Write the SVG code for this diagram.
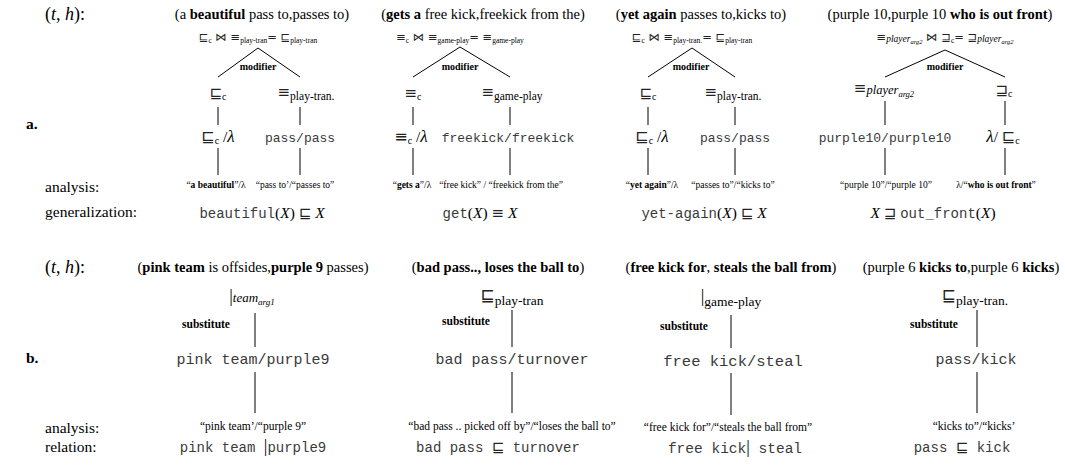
<svg xmlns="http://www.w3.org/2000/svg" width="1065" height="466" viewBox="0 0 1065 466">
<style>
text{font-family:"Liberation Serif","DejaVu Serif",serif;fill:#000}
.c{text-anchor:middle}
.title{font-size:14.5px}
.lbl{font-size:15.5px}
.th{font-size:18px}
.hd{font-size:15.5px;font-weight:bold}
.top{font-size:11.5px}
.sy{font-family:"DejaVu Sans",sans-serif;fill:#222}
.mono{font-family:"Liberation Mono","DejaVu Sans Mono",monospace;fill:#3a3a3a}
.i{font-style:italic}
.b{font-weight:bold}
.mod{font-size:10px;font-weight:bold}
.sub{font-size:11.5px;font-weight:bold}
.an{font-size:9.5px}
.anb{font-size:11.5px}
.n1{font-size:15px}
.edge{stroke:#000;stroke-width:1;fill:none}
</style>
<rect width="1065" height="466" fill="#fff"/>

<g id="labels">
<text x="45" y="20" class="th">(<tspan class="i">t</tspan>,  <tspan class="i">h</tspan>):</text>
<text x="26" y="129" class="hd">a.</text>
<text x="45" y="192" class="lbl">analysis:</text>
<text x="45" y="217" class="lbl">generalization:</text>
<text x="45" y="273" class="th">(<tspan class="i">t</tspan>,  <tspan class="i">h</tspan>):</text>
<text x="26" y="363" class="hd">b.</text>
<text x="45" y="433" class="lbl">analysis:</text>
<text x="45" y="452" class="lbl">relation:</text>
</g>

<g id="connectors">
<polyline class="edge" points="218,77 258,48 300,77"/>
<polyline class="edge" points="413,77 460,47 510,77"/>
<polyline class="edge" points="648,77 692,48 735,77"/>
<polyline class="edge" points="885,77 945,50 1005,77"/>
<text x="258" y="70" class="mod c">modifier</text>
<text x="460" y="70" class="mod c">modifier</text>
<text x="691" y="70" class="mod c">modifier</text>
<text x="945" y="70" class="mod c">modifier</text>
<path class="edge" d="M218,107V125M300,107V125M413,107V125M510,107V125M648,107V125M735,107V125M885,101V125M1005,101V125"/>
<path class="edge" d="M218,148V175M300,148V175M413,148V175M510,148V175M648,148V175M735,148V175M885,148V175M1005,148V175"/>
<path class="edge" d="M255,313V347M255,372V413M512,310V347M512,372V413M731,315V348M731,373V415M977,310V347M977,372V413"/>
<text x="206" y="328" class="sub c">substitute</text>
<text x="466" y="325" class="sub c">substitute</text>
<text x="684" y="330" class="sub c">substitute</text>
<text x="934" y="328" class="sub c">substitute</text>
</g>

<!-- Column a1 -->
<g id="a1-title"><text x="262" y="19" class="title c">(a <tspan class="b">beautiful</tspan> pass to,passes to)</text></g>
<g id="a1-root"><text x="258" y="41" class="top c"><tspan class="sy">⊑</tspan><tspan font-size="7.5" dy="2">c</tspan><tspan dy="-2" class="sy"> ⋈ ≡</tspan><tspan font-size="7.5" dy="2">play-tran</tspan><tspan dy="-2" class="sy">= ⊑</tspan><tspan font-size="7.5" dy="2">play-tran</tspan></text></g>
<g id="a1-l1"><text x="218" y="98" class="n1 c"><tspan class="sy">⊑</tspan><tspan font-size="10" dy="2">c</tspan></text></g>
<g id="a1-r1"><text x="306" y="97" class="n1 c"><tspan class="sy">≡</tspan><tspan font-size="11.5" dy="3">play-tran.</tspan></text></g>
<g id="a1-l2"><text x="218" y="142" class="lbl c"><tspan class="sy" font-size="16">⊑</tspan><tspan font-size="10" dy="2">c</tspan><tspan dy="-2"> /</tspan><tspan class="i" font-size="17">λ</tspan></text></g>
<g id="a1-r2"><text x="300" y="142" class="mono c" font-size="13">pass/pass</text></g>
<g id="a1-la"><text x="216" y="188" class="an c">“<tspan class="b">a beautiful</tspan>”/λ</text></g>
<g id="a1-ra"><text x="295" y="188" class="an c">“pass to’/“passes to”</text></g>
<g id="a1-gen"><text x="262" y="218" class="lbl c" font-size="17"><tspan class="mono" font-size="14">beautiful</tspan>(<tspan class="i">X</tspan>) <tspan class="sy" font-size="15">⊑</tspan> <tspan class="i">X</tspan></text></g>

<!-- Column a2 -->
<g id="a2-title"><text x="483" y="19" class="title c">(<tspan class="b">gets a</tspan> free kick,freekick from the)</text></g>
<g id="a2-root"><text x="460" y="41" class="top c"><tspan class="sy">≡</tspan><tspan font-size="7.5" dy="2">c</tspan><tspan dy="-2" class="sy"> ⋈ ≡</tspan><tspan font-size="7.5" dy="2">game-play</tspan><tspan dy="-2" class="sy">= ≡</tspan><tspan font-size="7.5" dy="2">game-play</tspan></text></g>
<g id="a2-l1"><text x="413" y="98" class="n1 c"><tspan class="sy">≡</tspan><tspan font-size="10" dy="2">c</tspan></text></g>
<g id="a2-r1"><text x="512" y="97" class="n1 c"><tspan class="sy">≡</tspan><tspan font-size="11.5" dy="3">game-play</tspan></text></g>
<g id="a2-l2"><text x="411" y="142" class="lbl c"><tspan class="sy" font-size="16">≡</tspan><tspan font-size="10" dy="2">c</tspan><tspan dy="-2"> /</tspan><tspan class="i" font-size="17">λ</tspan></text></g>
<g id="a2-r2"><text x="508" y="142" class="mono c" font-size="13">freekick/freekick</text></g>
<g id="a2-la"><text x="412" y="188" class="an c">“<tspan class="b">gets a</tspan>”/λ</text></g>
<g id="a2-ra"><text x="501" y="188" class="an c">“free kick” / “freekick from the”</text></g>
<g id="a2-gen"><text x="480" y="218" class="lbl c" font-size="17"><tspan class="mono" font-size="14">get</tspan>(<tspan class="i">X</tspan>) <tspan class="sy" font-size="15">≡</tspan> <tspan class="i">X</tspan></text></g>

<!-- Column a3 -->
<g id="a3-title"><text x="701" y="19" class="title c">(<tspan class="b">yet again</tspan> passes to,kicks to)</text></g>
<g id="a3-root"><text x="692" y="41" class="top c"><tspan class="sy">⊑</tspan><tspan font-size="7.5" dy="2">c</tspan><tspan dy="-2" class="sy"> ⋈ ≡</tspan><tspan font-size="7.5" dy="2">play-tran.</tspan><tspan dy="-2" class="sy">= ⊑</tspan><tspan font-size="7.5" dy="2">play-tran</tspan></text></g>
<g id="a3-l1"><text x="648" y="98" class="n1 c"><tspan class="sy">⊑</tspan><tspan font-size="10" dy="2">c</tspan></text></g>
<g id="a3-r1"><text x="733" y="97" class="n1 c"><tspan class="sy">≡</tspan><tspan font-size="11.5" dy="3">play-tran.</tspan></text></g>
<g id="a3-l2"><text x="652" y="142" class="lbl c"><tspan class="sy" font-size="16">⊑</tspan><tspan font-size="10" dy="2">c</tspan><tspan dy="-2"> /</tspan><tspan class="i" font-size="17">λ</tspan></text></g>
<g id="a3-r2"><text x="735" y="142" class="mono c" font-size="13">pass/pass</text></g>
<g id="a3-la"><text x="652" y="188" class="an c">“<tspan class="b">yet again</tspan>”/λ</text></g>
<g id="a3-ra"><text x="733" y="188" class="an c">“passes to”/“kicks to”</text></g>
<g id="a3-gen"><text x="704" y="218" class="lbl c" font-size="17"><tspan class="mono" font-size="14">yet-again</tspan>(<tspan class="i">X</tspan>) <tspan class="sy" font-size="15">⊑</tspan> <tspan class="i">X</tspan></text></g>

<!-- Column a4 -->
<g id="a4-title"><text x="940" y="19" class="title c">(purple 10,purple 10 <tspan class="b">who is out front</tspan>)</text></g>
<g id="a4-root"><text x="945" y="41" class="top c"><tspan class="sy">≡</tspan><tspan class="i" font-size="9.5" dy="1">player</tspan><tspan class="i" font-size="6.5" dy="2">arg2</tspan><tspan dy="-3" class="sy"> ⋈ ⊒</tspan><tspan font-size="7.5" dy="2">c</tspan><tspan dy="-2" class="sy">= ⊒</tspan><tspan class="i" font-size="9.5" dy="1">player</tspan><tspan class="i" font-size="6.5" dy="2">arg2</tspan></text></g>
<g id="a4-l1"><text x="884" y="93" class="n1 c"><tspan class="sy">≡</tspan><tspan class="i" font-size="12.5" dy="1">player</tspan><tspan class="i" font-size="8.5" dy="3">arg2</tspan></text></g>
<g id="a4-r1"><text x="1004" y="95" class="n1 c"><tspan class="sy">⊒</tspan><tspan font-size="10" dy="2">c</tspan></text></g>
<g id="a4-l2"><text x="885" y="142" class="mono c" font-size="13">purple10/purple10</text></g>
<g id="a4-r2"><text x="1003" y="142" class="lbl c"><tspan class="i" font-size="17">λ</tspan>/ <tspan class="sy" font-size="16">⊑</tspan><tspan font-size="10" dy="2">c</tspan></text></g>
<g id="a4-la"><text x="886" y="188" class="an c">“purple 10”/“purple 10”</text></g>
<g id="a4-ra"><text x="996" y="188" class="an c">λ/“<tspan class="b">who is out front</tspan>”</text></g>
<g id="a4-gen"><text x="933" y="218" class="lbl c" font-size="17"><tspan class="i">X</tspan> <tspan class="sy" font-size="15">⊒</tspan> <tspan class="mono" font-size="14">out_front</tspan>(<tspan class="i">X</tspan>)</text></g>

<!-- Column b1 -->
<g id="b1-title"><text x="253" y="272" class="title c">(<tspan class="b">pink team</tspan> is offsides,<tspan class="b">purple 9</tspan> passes)</text></g>
<g id="b1-node"><text x="252" y="302" class="lbl c"><tspan font-size="18">|</tspan><tspan class="i" font-size="13">team</tspan><tspan class="i" font-size="9" dy="3">arg1</tspan></text></g>
<g id="b1-main"><text x="253" y="364" class="mono c" font-size="15">pink team/purple9</text></g>
<g id="b1-an"><text x="253" y="430" class="anb c">“pink team’/“purple 9”</text></g>
<g id="b1-rel"><text x="253" y="452" class="lbl c"><tspan class="mono" font-size="14">pink team </tspan><tspan font-size="18">|</tspan><tspan class="mono" font-size="14">purple9</tspan></text></g>

<!-- Column b2 -->
<g id="b2-title"><text x="498" y="272" class="title c">(<tspan class="b">bad pass.., loses the ball to</tspan>)</text></g>
<g id="b2-node"><text x="512" y="301" class="lbl c"><tspan class="sy" font-size="17">⊑</tspan><tspan font-size="13.5" dy="4">play-tran</tspan></text></g>
<g id="b2-main"><text x="512" y="364" class="mono c" font-size="15">bad pass/turnover</text></g>
<g id="b2-an"><text x="512" y="430" class="anb c">“bad pass .. picked off by”/“loses the ball to”</text></g>
<g id="b2-rel"><text x="498" y="452" class="lbl c"><tspan class="mono" font-size="14">bad pass </tspan><tspan class="sy" font-size="15">⊑</tspan><tspan class="mono" font-size="14"> turnover</tspan></text></g>

<!-- Column b3 -->
<g id="b3-title"><text x="731" y="272" class="title c">(<tspan class="b">free kick for</tspan>, <tspan class="b">steals the ball from</tspan>)</text></g>
<g id="b3-node"><text x="731" y="302" class="lbl c"><tspan font-size="18">|</tspan><tspan font-size="13.5" dy="4">game-play</tspan></text></g>
<g id="b3-main"><text x="733" y="366" class="mono c" font-size="15.5">free kick/steal</text></g>
<g id="b3-an"><text x="728" y="431" class="anb c">“free kick for”/“steals the ball from”</text></g>
<g id="b3-rel"><text x="735" y="453" class="lbl c"><tspan class="mono" font-size="14.5">free kick</tspan><tspan font-size="18">|</tspan><tspan class="mono" font-size="14.5"> steal</tspan></text></g>

<!-- Column b4 -->
<g id="b4-title"><text x="961" y="272" class="title c">(purple 6 <tspan class="b">kicks to</tspan>,purple 6 <tspan class="b">kicks</tspan>)</text></g>
<g id="b4-node"><text x="975" y="301" class="lbl c"><tspan class="sy" font-size="17">⊑</tspan><tspan font-size="13.5" dy="4">play-tran.</tspan></text></g>
<g id="b4-main"><text x="976" y="364" class="mono c" font-size="15">pass/kick</text></g>
<g id="b4-an"><text x="974" y="430" class="anb c">“kicks to”/“kicks’</text></g>
<g id="b4-rel"><text x="962" y="452" class="lbl c"><tspan class="mono" font-size="14">pass </tspan><tspan class="sy" font-size="15">⊑</tspan><tspan class="mono" font-size="14"> kick</tspan></text></g>
</svg>
